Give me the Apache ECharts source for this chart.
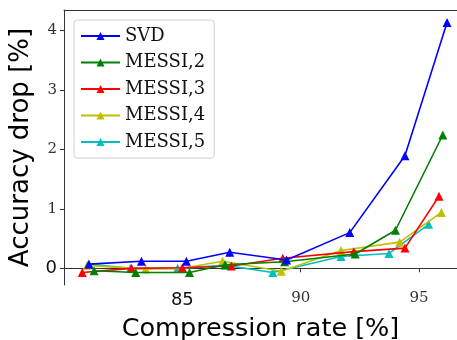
<!DOCTYPE html>
<html><head><meta charset="utf-8">
<script src="https://cdn.jsdelivr.net/npm/echarts@6/dist/echarts.min.js"></script>
<style>html,body{margin:0;padding:0;background:#fff}#c{width:457px;height:340px}</style>
</head><body><div id="c"></div>
<script>
var seriesNames = ['SVD', 'MESSI,2', 'MESSI,3', 'MESSI,4', 'MESSI,5'];
var svd = [[81.05,0.07],[83.27,0.12],[85.17,0.12],[87.0,0.27],[89.4,0.14],[92.07,0.6],[94.4,1.89],[96.18,4.13]];
var messi2 = [[81.27,-0.04],[83.03,-0.07],[85.3,-0.07],[86.8,0.06],[89.32,0.11],[92.3,0.24],[94.0,0.64],[96.0,2.24]];
var messi3 = [[80.77,-0.07],[82.85,0.0],[85.0,0.01],[87.07,0.04],[89.24,0.17],[92.24,0.28],[94.4,0.34],[95.84,1.21]];
var messi4 = [[80.98,0.05],[83.45,-0.01],[85.0,0.0],[86.7,0.12],[89.18,-0.05],[91.7,0.3],[94.18,0.44],[95.94,0.94]];
var messi5 = [[81.05,0.07],[82.8,0.0],[84.8,0.0],[86.83,0.05],[88.82,-0.07],[91.7,0.2],[93.73,0.25],[95.4,0.74]];
var xTicks = [85, 90, 95];
var yTicks = [0, 1, 2, 3, 4];
var colors = ['#0000ff', '#008000', '#ff0000', '#bfbf00', '#00bfbf'];
var allData = [svd, messi2, messi3, messi4, messi5];

var chart = echarts.init(document.getElementById('c'));
var series = allData.map(function(d, i){
  return {
    name: seriesNames[i], type: 'line', data: d,
    symbol: 'triangle', symbolSize: 9,
    lineStyle: {width: 1.6, color: colors[i]},
    itemStyle: {color: colors[i]},
    z: 10 - i
  };
});
chart.setOption({
  animation: false,
  grid: {left: 64, top: 10, right: 0, bottom: 55, show: false, containLabel: false, outerBoundsMode: 'none'},
  legend: {
    left: 74, top: 20, orient: 'vertical',
    data: seriesNames,
    itemWidth: 39, itemHeight: 10, itemGap: 6.5, itemTextGap: 14,
    padding: [6, 9, 6, 6],
    borderColor: '#d0d0d0', borderWidth: 1, borderRadius: 3,
    backgroundColor: 'rgba(255,255,255,0.85)',
    textStyle: {fontFamily: 'DejaVu Serif', fontSize: 18, lineHeight: 20, color: '#111'}
  },
  xAxis: [{
    type: 'value', min: 80, max: 96.6, interval: 5,
    name: 'Compression rate [%]', nameLocation: 'middle', nameGap: 31,
    nameTextStyle: {fontFamily: 'DejaVu Sans', fontSize: 25.5, color: '#000'},
    axisLine: {show: true, lineStyle: {color: '#333'}},
    axisTick: {show: true, length: 4, lineStyle: {color: '#333'}, customValues: xTicks},
    axisLabel: {
      margin: 6, customValues: xTicks,
      formatter: function(v){ return v === 85 ? '{s|' + v + '}' : '{r|' + v + '}'; },
      rich: {
        s: {fontFamily: 'DejaVu Sans', fontSize: 18, color: '#111'},
        r: {fontFamily: 'DejaVu Serif', fontSize: 15, color: '#333'}
      }
    },
    splitLine: {show: false}
  }, {
    type: 'value', position: 'top', min: 80, max: 96.6, interval: 5,
    axisLine: {show: true, lineStyle: {color: '#333'}},
    axisTick: {show: false}, axisLabel: {show: false}, splitLine: {show: false}
  }],
  yAxis: {
    type: 'value', min: -0.28, max: 4.34,
    name: 'Accuracy drop [%]', nameLocation: 'middle', nameGap: 27,
    nameTextStyle: {fontFamily: 'DejaVu Sans', fontSize: 26, color: '#000'},
    axisLine: {show: true, lineStyle: {color: '#333'}},
    axisTick: {show: true, length: 4, lineStyle: {color: '#333'}, customValues: yTicks},
    axisLabel: {
      margin: 7, customValues: yTicks,
      formatter: function(v){ return v === 0 ? '{s|' + v + '}' : '{r|' + v + '}'; },
      rich: {
        s: {fontFamily: 'DejaVu Sans', fontSize: 18, color: '#111'},
        r: {fontFamily: 'DejaVu Serif', fontSize: 15, color: '#333'}
      }
    },
    splitLine: {show: false}
  },
  series: series
});
</script></body></html>
